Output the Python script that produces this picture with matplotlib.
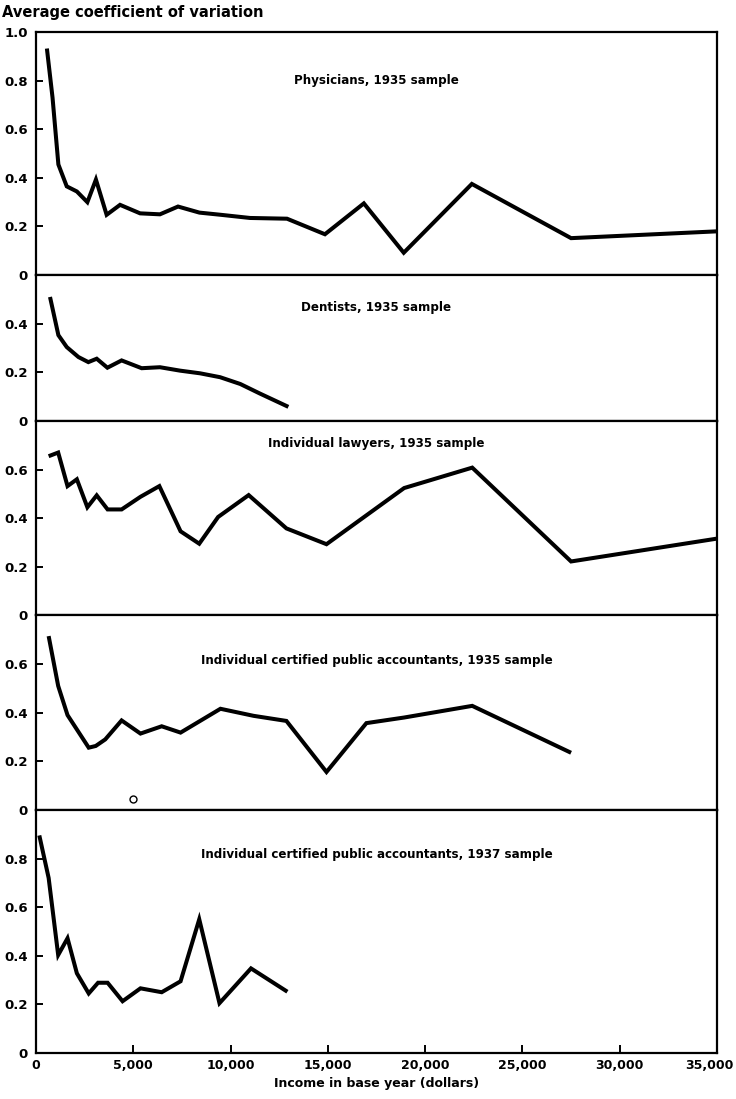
"""
Average coefficient of variation by income in base year, five samples.
"""

import matplotlib
matplotlib.use("Agg")
import matplotlib.pyplot as plt
import matplotlib.transforms as mtrans
from matplotlib import font_manager

# ─────────────────────── data ───────────────────────
phys_x = [560, 850, 1150, 1580, 2100, 2640, 3080, 3630, 4320, 5350, 6370,
          7300, 8400, 9500, 11000, 12900, 14850, 16850, 18900, 22400, 27500, 35000]
phys_y = [0.932, 0.73, 0.455, 0.365, 0.344, 0.30, 0.393, 0.248, 0.289, 0.254, 0.25,
          0.282, 0.257, 0.248, 0.235, 0.232, 0.168, 0.295, 0.092, 0.375, 0.152, 0.18]

dent_x = [720, 1150, 1580, 2180, 2690, 3120, 3670, 4400, 5430, 6370, 7400,
          8430, 9460, 10500, 11500, 12970]
dent_y = [0.51, 0.353, 0.304, 0.263, 0.242, 0.256, 0.219, 0.249, 0.217, 0.221, 0.207,
          0.196, 0.18, 0.152, 0.113, 0.058]

law_x = [650, 1140, 1620, 2100, 2640, 3120, 3680, 4400, 5370, 6340, 7430,
         8390, 9360, 10930, 12870, 14930, 18920, 22420, 27500, 35000]
law_y = [0.655, 0.67, 0.532, 0.56, 0.445, 0.494, 0.436, 0.436, 0.488, 0.532, 0.346,
         0.295, 0.405, 0.495, 0.358, 0.293, 0.524, 0.608, 0.222, 0.316]

cpa35_x = [650, 1140, 1620, 2710, 3070, 3560, 4400, 5370, 6460, 7430, 9480,
           11180, 12870, 14930, 16980, 18920, 22420, 27500]
cpa35_y = [0.715, 0.51, 0.39, 0.256, 0.263, 0.29, 0.368, 0.314, 0.344, 0.318, 0.416,
           0.387, 0.366, 0.156, 0.357, 0.38, 0.428, 0.235]

cpa37_x = [170, 650, 1140, 1620, 2100, 2710, 3190, 3680, 4450, 5370, 6460,
           7430, 8390, 9430, 11050, 12920]
cpa37_y = [0.895, 0.72, 0.403, 0.472, 0.328, 0.245, 0.289, 0.289, 0.213, 0.266, 0.25,
           0.295, 0.55, 0.205, 0.348, 0.252]

# stray ring printed in the 1935 accountants panel
stray_x = [5000]
stray_y = [0.045]

titles = [
    "Physicians, 1935 sample",
    "Dentists, 1935 sample",
    "Individual lawyers, 1935 sample",
    "Individual certified public accountants, 1935 sample",
    "Individual certified public accountants, 1937 sample",
]
series = [(phys_x, phys_y), (dent_x, dent_y), (law_x, law_y),
          (cpa35_x, cpa35_y), (cpa37_x, cpa37_y)]
y_tops = [1.0, 0.6, 0.8, 0.8, 1.0]
title_y = [0.80, 0.78, 0.885, 0.77, 0.815]

x_ticks = [0, 5000, 10000, 15000, 20000, 25000, 30000, 35000]
x_labels = ["0", "5,000", "10,000", "15,000", "20,000", "25,000", "30,000", "35,000"]
# ────────────────────────────────────────────────────

names = {f.name for f in font_manager.fontManager.ttflist}
narrow = "Liberation Sans Narrow" in names
FAM = ["Liberation Sans Narrow", "DejaVu Sans"] if narrow else ["DejaVu Sans"]
plt.rcParams["font.family"] = FAM
plt.rcParams["font.weight"] = "bold"
TICK_FS = 11 if narrow else 9.5
LBL_FS = 10.5 if narrow else 8.6

fig = plt.figure(figsize=(7.36, 10.99), dpi=100)
gs = fig.add_gridspec(5, 1, height_ratios=y_tops, hspace=0,
                      left=36 / 736, right=717 / 736,
                      top=1 - 32 / 1099, bottom=1 - 1053 / 1099)

for i, ((xs, ys), top) in enumerate(zip(series, y_tops)):
    ax = fig.add_subplot(gs[i])
    ax.plot(xs, ys, color="black", lw=2.9, solid_joinstyle="miter",
            solid_capstyle="butt")
    ax.set_xlim(0, 35000)
    ax.set_ylim(0, top)

    yt = [round(v * 0.2, 1) for v in range(int(round(top / 0.2)) + 1)]
    if i > 0:
        yt = yt[:-1]
    ax.set_yticks(yt)
    ax.set_yticklabels(["0" if v == 0 else f"{v:.1f}" for v in yt])
    ax.tick_params(axis="y", direction="in", length=5, width=1.4,
                   labelsize=TICK_FS, pad=6)

    if i == 4:
        ax.set_xticks(x_ticks)
        ax.set_xticklabels(x_labels)
        ax.tick_params(axis="x", direction="in", length=6, width=1.4,
                       labelsize=9, pad=4)
        # last label sits against the page edge, pull it in a little
        last = ax.get_xticklabels()[-1]
        last.set_transform(last.get_transform() +
                           mtrans.ScaledTranslation(-8 / 100, 0, fig.dpi_scale_trans))
        ax.set_xlabel("Income in base year (dollars)", fontsize=9,
                      fontweight="bold", labelpad=4)
    else:
        ax.set_xticks([])

    for s in ax.spines.values():
        s.set_linewidth(1.6)

    ax.text(0.5, title_y[i], titles[i], transform=ax.transAxes,
            ha="center", va="center", fontsize=LBL_FS, fontweight="bold")

    if i == 3:
        ax.plot(stray_x, stray_y, "o", mfc="none", mec="black", ms=5, mew=1)

fig.text(2 / 736, 1 - 12 / 1099, "Average coefficient of variation",
         ha="left", va="center", fontsize=10.5, fontweight="bold")

fig.savefig("out.png", dpi=100)
